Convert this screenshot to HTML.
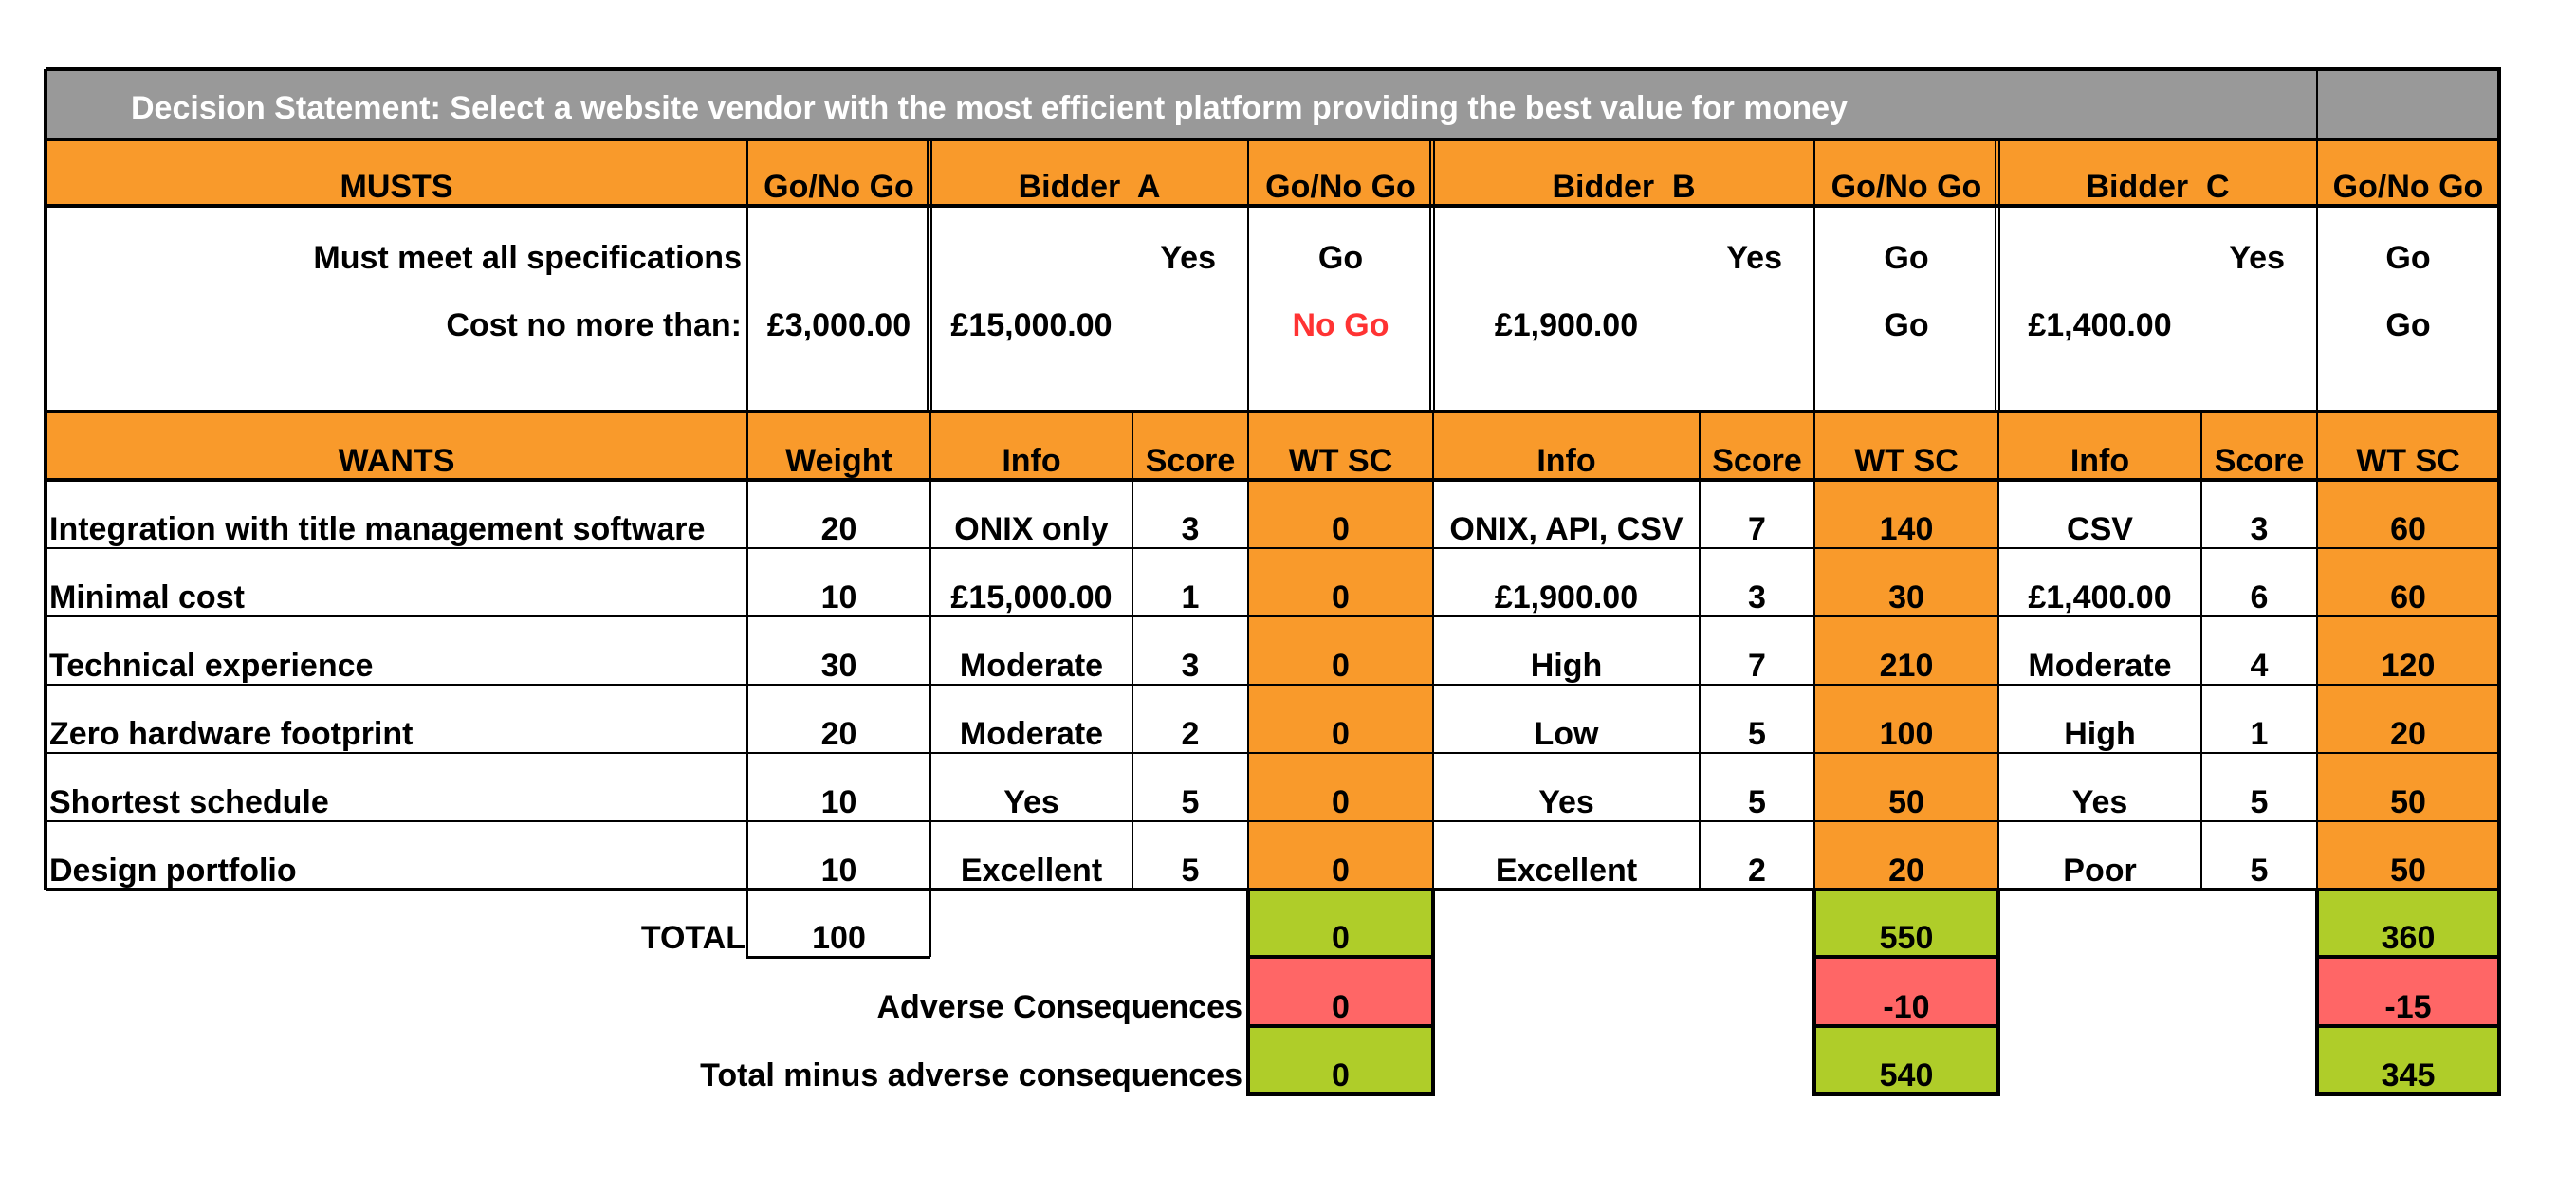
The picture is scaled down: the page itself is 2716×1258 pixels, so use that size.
<!DOCTYPE html>
<html><head><meta charset="utf-8"><style>
html,body{margin:0;padding:0;background:#fff;}
body{width:2716px;height:1258px;position:relative;overflow:hidden;font-family:"Liberation Sans",Arial,sans-serif;font-weight:bold;}
.c{position:absolute;display:flex;align-items:flex-end;box-sizing:border-box;font-size:34px;line-height:34px;padding-bottom:3px;white-space:pre;color:#000;}
.l{position:absolute;background:#000;}
</style></head><body>
<script>
const X=[48,788,981,1194,1316,1511,1792,1913,2107,2321,2443,2635];
const Y=[73,147,217,434,506,578,650,722,794,866,938,1009,1082,1154];
const OR='#f99a2b',GR='#afcd29',RD='#ff6666',GY='#999999';
const wants=['Integration with title management software','Minimal cost','Technical experience','Zero hardware footprint','Shortest schedule','Design portfolio'];
const weights=[20,10,30,20,10,10];
const infoA=['ONIX only','£15,000.00','Moderate','Moderate','Yes','Excellent'];
const scoreA=[3,1,3,2,5,5];
const wtA=[0,0,0,0,0,0];
const infoB=['ONIX, API, CSV','£1,900.00','High','Low','Yes','Excellent'];
const scoreB=[7,3,7,5,5,2];
const wtB=[140,30,210,100,50,20];
const infoC=['CSV','£1,400.00','Moderate','High','Yes','Poor'];
const scoreC=[3,6,4,1,5,5];
const wtC=[60,60,120,20,50,50];
const totals=[0,550,360];
const adverse=[0,-10,-15];
const net=[0,540,345];

function box(x1,x2,y1,y2,bg,name){
  const el=document.createElement('div');
  el.className='c';
  el.style.left=x1+'px';el.style.top=y1+'px';el.style.width=(x2-x1)+'px';el.style.height=(y2-y1)+'px';
  if(bg)el.style.background=bg;
  
  
  document.body.appendChild(el);
  return el;
}
function cell(x1,x2,y1,y2,text,align,bg,name,color){
  const el=box(x1,x2,y1,y2,bg,name);
  el.textContent=text;
  el.style.justifyContent=align==='l'?'flex-start':align==='r'?'flex-end':'center';
  if(align==='l')el.style.paddingLeft='4px';
  if(align==='r')el.style.paddingRight='6px';
  if(color)el.style.color=color;
  return el;
}
function line(x,y,w,h,name){
  const el=document.createElement('div');
  el.className='l';
  el.style.left=x+'px';el.style.top=y+'px';el.style.width=w+'px';el.style.height=h+'px';
  
  
  document.body.appendChild(el);
}
const t=cell(X[0],X[10],Y[0],Y[1],'Decision Statement: Select a website vendor with the most efficient platform providing the best value for money','l',GY,'decision-statement','#fff');
t.style.paddingLeft='90px';t.style.paddingBottom='16px';
box(X[10],X[11],Y[0],Y[1],GY,'title-blank-cell');
cell(X[0],X[1],Y[1],Y[2],'MUSTS','c',OR,'musts-header');
cell(X[1],X[2],Y[1],Y[2],'Go/No Go','c',OR,'go-no-go-header');
cell(X[2],X[4],Y[1],Y[2],'Bidder  A','c',OR,'bidder-a-header');
cell(X[4],X[5],Y[1],Y[2],'Go/No Go','c',OR,'go-no-go-a-header');
cell(X[5],X[7],Y[1],Y[2],'Bidder  B','c',OR,'bidder-b-header');
cell(X[7],X[8],Y[1],Y[2],'Go/No Go','c',OR,'go-no-go-b-header');
cell(X[8],X[10],Y[1],Y[2],'Bidder  C','c',OR,'bidder-c-header');
cell(X[10],X[11],Y[1],Y[2],'Go/No Go','c',OR,'go-no-go-c-header');
const m1=[Y[2],292],m2=[292,363];
cell(X[0],X[1],m1[0],m1[1],'Must meet all specifications','r',null,'must-spec-label');
cell(X[0],X[1],m2[0],m2[1],'Cost no more than:','r',null,'must-cost-label');
cell(X[1],X[2],m2[0],m2[1],'£3,000.00','c',null,'cost-limit');
cell(X[3],X[4],m1[0],m1[1],'Yes','r',null,'a-spec-yes').style.paddingRight='34px';
cell(X[2],X[3],m2[0],m2[1],'£15,000.00','c',null,'a-cost');
cell(X[4],X[5],m1[0],m1[1],'Go','c',null,'a-spec-go');
cell(X[4],X[5],m2[0],m2[1],'No Go','c',null,'a-cost-nogo','#ff3333');
cell(X[6],X[7],m1[0],m1[1],'Yes','r',null,'b-spec-yes').style.paddingRight='34px';
cell(X[5],X[6],m2[0],m2[1],'£1,900.00','c',null,'b-cost');
cell(X[7],X[8],m1[0],m1[1],'Go','c',null,'b-spec-go');
cell(X[7],X[8],m2[0],m2[1],'Go','c',null,'b-cost-go');
cell(X[9],X[10],m1[0],m1[1],'Yes','r',null,'c-spec-yes').style.paddingRight='34px';
cell(X[8],X[9],m2[0],m2[1],'£1,400.00','c',null,'c-cost');
cell(X[10],X[11],m1[0],m1[1],'Go','c',null,'c-spec-go');
cell(X[10],X[11],m2[0],m2[1],'Go','c',null,'c-cost-go');
const wh=['WANTS','Weight','Info','Score','WT SC','Info','Score','WT SC','Info','Score','WT SC'];
for(let i=0;i<11;i++){cell(X[i],X[i+1],Y[3],Y[4],wh[i],'c',OR,'wants-header-col');}
for(let r=0;r<wants.length;r++){
  const y1=Y[4+r],y2=Y[5+r];
  cell(X[0],X[1],y1,y2,wants[r],'l',null,'want-label');
  cell(X[1],X[2],y1,y2,String(weights[r]),'c',null,'weight-value');
  cell(X[2],X[3],y1,y2,infoA[r],'c',null,'info-a');
  cell(X[3],X[4],y1,y2,String(scoreA[r]),'c',null,'score-a');
  cell(X[4],X[5],y1,y2,String(wtA[r]),'c',OR,'wtsc-a');
  cell(X[5],X[6],y1,y2,infoB[r],'c',null,'info-b');
  cell(X[6],X[7],y1,y2,String(scoreB[r]),'c',null,'score-b');
  cell(X[7],X[8],y1,y2,String(wtB[r]),'c',OR,'wtsc-b');
  cell(X[8],X[9],y1,y2,infoC[r],'c',null,'info-c');
  cell(X[9],X[10],y1,y2,String(scoreC[r]),'c',null,'score-c');
  cell(X[10],X[11],y1,y2,String(wtC[r]),'c',OR,'wtsc-c');
}
cell(X[0],X[1],Y[10],Y[11],'TOTAL','r',null,'total-label').style.paddingRight='2px';
cell(X[1],X[2],Y[10],Y[11],'100','c',null,'weight-total');
cell(X[0],X[4],Y[11],Y[12],'Adverse Consequences','r',null,'adverse-label');
cell(X[0],X[4],Y[12],Y[13],'Total minus adverse consequences','r',null,'net-label');
const wc=[[X[4],X[5]],[X[7],X[8]],[X[10],X[11]]];
for(let i=0;i<3;i++){
  cell(wc[i][0],wc[i][1],Y[10],Y[11],String(totals[i]),'c',GR,'total-score');
  cell(wc[i][0],wc[i][1],Y[11],Y[12],String(adverse[i]),'c',RD,'adverse-score');
  cell(wc[i][0],wc[i][1],Y[12],Y[13],String(net[i]),'c',GR,'net-score');
}
const W=X[11]-X[0];
[0,1,2,3,4,10].forEach(i=>line(X[0],Y[i]-2,W+2,4,'thick-rule'));
for(let i=5;i<10;i++)line(X[0],Y[i]-1,W,2,'thin-rule');
line(X[0]-2,Y[0],4,Y[10]-Y[0],'left-border');
line(X[11]-2,Y[0]-2,4,Y[10]-Y[0]+4,'right-border');
line(X[10]-1,Y[0],2,Y[2]-Y[0],'title-divider');
[1,4,7,10].forEach(i=>line(X[i]-1,Y[1],2,Y[3]-Y[1],'musts-divider'));
[2,5,8].forEach(i=>{line(X[i]-4,Y[1],2,Y[3]-Y[1],'double-rule');line(X[i],Y[1],2,Y[3]-Y[1],'double-rule');});
for(let i=1;i<11;i++)line(X[i]-1,Y[3],2,Y[10]-Y[3],'wants-divider');
line(X[1]-1,Y[10],2,Y[11]-Y[10],'weight-box');
line(X[2]-1,Y[10],2,Y[11]-Y[10],'weight-box');
line(X[1]-1,Y[11]-1,X[2]-X[1]+1,3,'weight-box');
for(let i=0;i<3;i++){
  const a=wc[i][0],b=wc[i][1];
  line(a-2,Y[10],4,Y[13]-Y[10]+2,'score-box');
  line(b-2,Y[10],4,Y[13]-Y[10]+2,'score-box');
  [11,12,13].forEach(k=>line(a-2,Y[k]-2,b-a+4,4,'score-box'));
}
</script>
</body></html>
